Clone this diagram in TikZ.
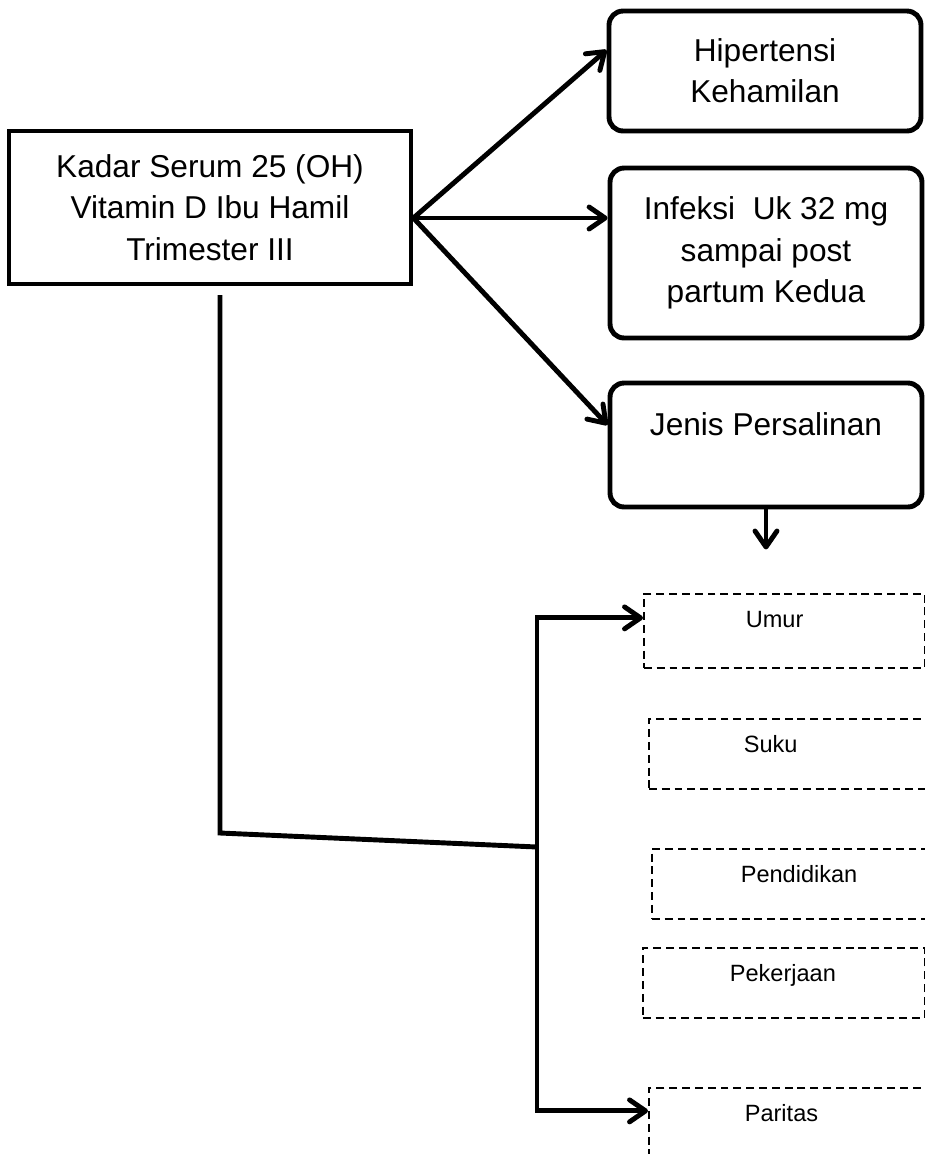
\documentclass[tikz,border=0pt]{standalone}
\usepackage{fontspec}
\setmainfont{Liberation Sans}
\usetikzlibrary{arrows.meta}

\begin{document}
\begin{tikzpicture}[x=0.02cm,y=-0.02cm,line width=2.8pt,>={Straight Barb[round,length=3.2mm,width=4.4mm]},every node/.style={align=center,font=\fontsize{18}{23.5}\selectfont},mainbox/.style={draw,rectangle,minimum width=8.04cm,minimum height=3.06cm},outcome/.style={draw,rectangle,rounded corners=0.28cm,minimum width=6.24cm},factor/.style={draw,rectangle,line width=1pt,dash pattern=on 4.5pt off 2.8pt,anchor=north west,align=left,inner ysep=0pt,text height=0.68cm,text depth=0.72cm,font=\fontsize{13.4}{16}\selectfont}]
\useasboundingbox (0,0) rectangle (925,1154);
\clip (0,0) rectangle (925,1154);
\node[mainbox] at (210,207.5) (main) {Kadar Serum 25 (OH)\\ Vitamin D Ibu Hamil\\ Trimester III};
\node[outcome] [minimum height=2.4cm] at (765,71) (hip) {Hipertensi\\ Kehamilan};
\node[outcome] [minimum height=3.4cm] at (766,253) (inf) {Infeksi~ Uk 32 mg\\ sampai post\\ partum Kedua};
\node[outcome] [minimum height=2.48cm] at (766,445) (jen) {Jenis Persalinan\\ \mbox{}};

\node[factor] [inner xsep=2.04cm,text width=1.54cm,text depth=0.8cm] at (643,593) (umur) {Umur};
\node[factor] [inner xsep=1.9cm,text width=1.94cm] at (648,718) (suku) {Suku};
\node[factor] [inner xsep=1.78cm,text width=2.62cm] at (651,848) (didik) {Pendidikan};
\node[factor] [inner xsep=1.74cm,text width=2.16cm] at (642,947) (kerja) {Pekerjaan};
\node[factor] [inner xsep=1.92cm,text width=1.9cm] at (648,1087) (paritas) {Paritas};

\coordinate (fork) at ([yshift=-0.21cm]main.east);
\coordinate (jout) at ([yshift=-0.8cm]jen.south);
\coordinate (trunk) at (220,295);
\coordinate (bend) at (220,833);
\coordinate (join) at (537,847);

					\draw[->] (fork) -- ([yshift=0.42cm]hip.west);
					\draw[->] (fork) -- (fork -| inf.west);
					\draw[->] (fork) -- ([yshift=0.4cm]jen.west);
					\draw[->] (jen) -- (jout);
					
					\draw (trunk) -- (bend) -- (join);
					\draw[->] (join) |- ([yshift=0.26cm]umur.west);
					\draw[->] (join) |- ([yshift=0.24cm]paritas.west);
				\end{tikzpicture}
\end{document}
